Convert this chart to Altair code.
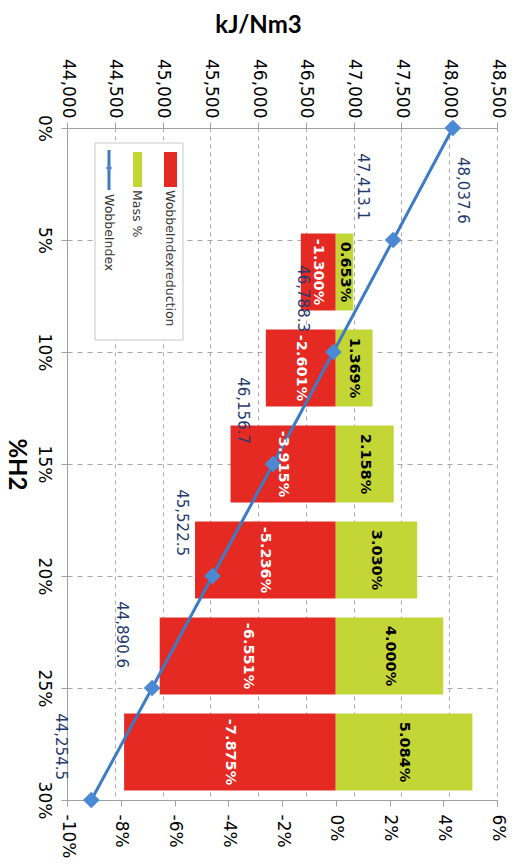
import altair as alt
import pandas as pd

# ---------------- data ----------------
h2_pct = [0, 5, 10, 15, 20, 25, 30]
wobbe_index = [48037.6, 47413.1, 46788.3, 46156.7, 45522.5, 44890.6, 44254.5]
bar_h2 = [5, 10, 15, 20, 25, 30]
wobbe_reduction = [-1.300, -2.601, -3.915, -5.236, -6.551, -7.875]
mass_pct = [0.653, 1.369, 2.158, 3.030, 4.000, 5.084]
kj_ticks = [44000, 44500, 45000, 45500, 46000, 46500, 47000, 47500, 48000, 48500]
pct_ticks = [-10, -8, -6, -4, -2, 0, 2, 4, 6]
legend_names = ["WobbeIndexreduction", "Mass %", "WobbeIndex"]

# ---------------- style ----------------
RED = "#e52a24"
GREEN = "#c4d636"
BLUE = "#3c7bc6"
DIAMOND = "#4a8ad4"
NAVY = "#1f3a70"
GRID = "#a8a8a8"
AXIS = "#a0a0a0"
W, H = 430, 672
FONT = "DejaVu Sans"

line_df = pd.DataFrame({"h2": h2_pct, "wobbe": wobbe_index})
line_df["label"] = [f"{v:,.1f}" for v in wobbe_index]

bars_df = pd.DataFrame({
    "h2": bar_h2 + bar_h2,
    "value": wobbe_reduction + mass_pct,
    "series": ["red"] * len(bar_h2) + ["mass"] * len(bar_h2),
})
bars_df["label"] = [f"{v:.3f}%" for v in bars_df["value"]]

x_kj = alt.Scale(domain=[44000, 48500], nice=False, zero=False)
y_lin = alt.Scale(domain=[0, 30], nice=False, zero=False, reverse=True)
x_pct = alt.Scale(domain=[-10, 6], nice=False, zero=False)
y_band = alt.Scale(domain=h2_pct, paddingInner=0.2, paddingOuter=0.1)

# ---------------- bars ----------------
bar_base = alt.Chart(bars_df)
bars_red = bar_base.transform_filter("datum.series == 'red'").mark_bar(color=RED).encode(
    x=alt.X("value:Q", scale=x_pct, axis=alt.Axis(
        orient="bottom", values=pct_ticks, labelExpr="datum.value + '%'",
        labelAngle=90, labelAlign="left", labelBaseline="middle",
        labelFont=FONT, labelFontSize=17, labelColor="#000000", labelPadding=8,
        tickSize=6, tickColor=AXIS, domainColor=AXIS, grid=False, title=None)),
    x2=alt.X2(datum=0),
    y=alt.Y("h2:O", scale=y_band, axis=None),
)
bars_mass = bar_base.transform_filter("datum.series == 'mass'").mark_bar(color=GREEN).encode(
    x=alt.X("value:Q", scale=x_pct, axis=None),
    x2=alt.X2(datum=0),
    y=alt.Y("h2:O", scale=y_band, axis=None),
)
lab_red = bar_base.transform_filter("datum.series == 'red'").transform_calculate(
    mid="datum.value / 2").mark_text(
    angle=90, align="center", baseline="middle", font=FONT, fontSize=14.5,
    fontWeight="bold", color="#ffffff").encode(
    x=alt.X("mid:Q", scale=x_pct, axis=None),
    y=alt.Y("h2:O", scale=y_band, axis=None),
    text="label:N",
)
lab_mass = bar_base.transform_filter("datum.series == 'mass'").transform_calculate(
    mid="datum.value / 2").mark_text(
    angle=90, align="center", baseline="middle", font=FONT, fontSize=14.5,
    fontWeight="bold", color="#000000").encode(
    x=alt.X("mid:Q", scale=x_pct, axis=None),
    y=alt.Y("h2:O", scale=y_band, axis=None),
    text="label:N",
)

# ---------------- line ----------------
line_base = alt.Chart(line_df)
line = line_base.mark_line(color=BLUE, strokeWidth=3).encode(
    x=alt.X("wobbe:Q", scale=x_kj, axis=alt.Axis(
        orient="top", values=kj_ticks, format=",.0f",
        labelAngle=90, labelAlign="right", labelBaseline="middle",
        labelFont=FONT, labelFontSize=17, labelColor="#000000", labelPadding=4,
        tickSize=6, tickColor=AXIS, domainColor=AXIS,
        grid=True, gridDash=[4, 4], gridColor=GRID, gridWidth=1,
        title="kJ/Nm3", titleFont="Lato", titleFontSize=24, titleFontWeight="bold",
        titleColor="#000000", titleAngle=0, titleAlign="center", titleBaseline="middle",
        titleX=191, titleY=-103)),
    y=alt.Y("h2:Q", scale=y_lin, axis=alt.Axis(
        orient="left", values=h2_pct, labelExpr="datum.value + '%'",
        labelAngle=90, labelAlign="center", labelBaseline="middle",
        labelFont=FONT, labelFontSize=17, labelColor="#000000", labelPadding=18,
        tickSize=6, tickColor=AXIS, domainColor=AXIS,
        grid=True, gridDash=[5, 5], gridColor=GRID, gridWidth=1,
        title="%H2", titleFont="Lato", titleFontSize=24, titleFontWeight="bold",
        titleColor="#000000", titleAngle=90, titleAlign="center", titleBaseline="middle",
        titleX=-52, titleY=336)),
)
points = line_base.mark_point(shape="diamond", filled=True, size=280, color=DIAMOND, opacity=1).encode(
    x=alt.X("wobbe:Q", scale=x_kj, axis=None),
    y=alt.Y("h2:Q", scale=y_lin, axis=None),
)
line_labels = line_base.transform_filter("datum.h2 > 0").mark_text(
    angle=90, align="right", baseline="middle", dx=-20, dy=30,
    font=FONT, fontSize=15, color=NAVY).encode(
    x=alt.X("wobbe:Q", scale=x_kj, axis=None),
    y=alt.Y("h2:Q", scale=y_lin, axis=None),
    text="label:N",
)
first_label = line_base.transform_filter("datum.h2 == 0").mark_text(
    angle=90, align="left", baseline="middle", dx=29, dy=-10,
    font=FONT, fontSize=15, color=NAVY).encode(
    x=alt.X("wobbe:Q", scale=x_kj, axis=None),
    y=alt.Y("h2:Q", scale=y_lin, axis=None),
    text="label:N",
)

# ---------------- legend ----------------
one = alt.Chart(pd.DataFrame({"k": [0]}))
leg_box = one.mark_rect(fill="#ffffff", stroke="#c8c8c8", strokeWidth=1).encode(
    x=alt.value(28), x2=alt.value(116), y=alt.value(15), y2=alt.value(212))
leg_red = one.mark_rect(color=RED).encode(
    x=alt.value(97), x2=alt.value(110), y=alt.value(24), y2=alt.value(59))
leg_green = one.mark_rect(color=GREEN).encode(
    x=alt.value(66), x2=alt.value(75), y=alt.value(24), y2=alt.value(59))
leg_line = one.mark_rule(color=BLUE, strokeWidth=3).encode(
    x=alt.value(42), y=alt.value(22), y2=alt.value(62))
leg_pt = one.mark_point(shape="diamond", filled=True, size=40, color=DIAMOND, opacity=1).encode(
    x=alt.value(42), y=alt.value(40))
leg_text_style = dict(angle=90, align="left", baseline="middle", font=FONT,
                      fontSize=12.5, color="#333333")
leg_t1 = one.mark_text(**leg_text_style).encode(
    x=alt.value(103), y=alt.value(62), text=alt.value(legend_names[0]))
leg_t2 = one.mark_text(**leg_text_style).encode(
    x=alt.value(70), y=alt.value(62), text=alt.value(legend_names[1]))
leg_t3 = one.mark_text(**leg_text_style).encode(
    x=alt.value(42), y=alt.value(66), text=alt.value(legend_names[2]))

chart = alt.layer(
    bars_red, bars_mass, line, points, lab_red, lab_mass, line_labels, first_label,
    leg_box, leg_red, leg_green, leg_line, leg_pt, leg_t1, leg_t2, leg_t3,
).resolve_scale(x="independent", y="independent").properties(
    width=W, height=H, autosize="none",
    padding={"left": 67, "top": 128, "right": 18, "bottom": 64},
    background="#ffffff",
).configure_view(strokeWidth=0)

chart.save("out.html", embed_options={"renderer": "svg", "actions": False})
